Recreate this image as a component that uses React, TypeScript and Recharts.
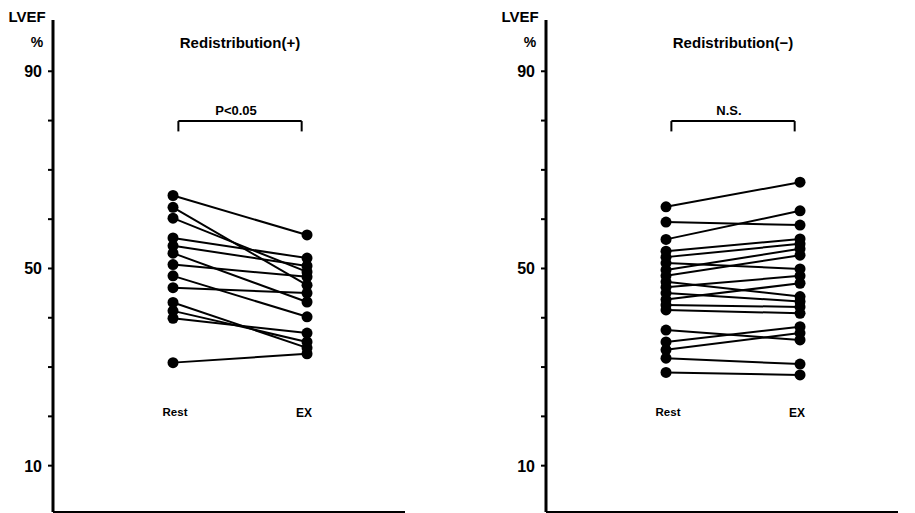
import { LineChart, Line, XAxis, YAxis, ReferenceLine } from "recharts";

// LVEF (%), paired Rest -> EX per patient
const restPlus = [64.8, 62.4, 60.2, 56.2, 54.6, 53.1, 50.8, 48.5, 46.1, 43.1, 41.4, 39.9, 30.9];
const exPlus = [56.8, 46.6, 49.3, 52.1, 50.5, 43.2, 48.3, 40.2, 45.0, 33.9, 35.1, 36.9, 32.7];

const restMinus = [62.5, 59.4, 55.9, 53.5, 52.3, 51.1, 49.7, 48.5, 47.3, 46.2, 45.0, 43.7, 42.6, 41.6, 37.5, 35.1, 33.5, 31.8, 28.9];
const exMinus = [67.5, 58.8, 61.7, 56.0, 55.0, 49.9, 54.0, 52.7, 44.3, 48.5, 43.3, 47.0, 42.2, 40.9, 35.5, 38.2, 36.9, 30.6, 28.4];

const yTicks = [10, 20, 30, 40, 50, 60, 70, 80, 90];
const yLabels = [10, 50, 90];
const phases = ["Rest", "EX"];

const FONT = "'Liberation Sans', Arial, sans-serif";

const buildRows = (rest: number[], ex: number[]) =>
  [rest, ex].map((vals, x) => {
    const row: Record<string, number> = { x };
    vals.forEach((v, i) => {
      row[`p${i}`] = v;
    });
    return row;
  });

const YTick = (props: any) => {
  const { x, y, payload } = props;
  if (!yLabels.includes(payload.value)) return <g />;
  return (
    <text
      x={x}
      y={y}
      dy={6}
      textAnchor="end"
      fontFamily={FONT}
      fontWeight={700}
      fontSize={16}
      fill="#000"
    >
      {payload.value}
    </text>
  );
};

const Label = ({ x, y, size, children }: { x: number; y: number; size: number; children: React.ReactNode }) => (
  <div
    style={{
      position: "absolute",
      left: x,
      top: y,
      transform: "translate(-50%, -50%)",
      fontFamily: FONT,
      fontWeight: 700,
      fontSize: size,
      lineHeight: 1,
      whiteSpace: "nowrap",
      color: "#000",
    }}
  >
    {children}
  </div>
);

interface PanelProps {
  left: number;
  title: string;
  note: string;
  rest: number[];
  ex: number[];
}

const Panel = ({ left, title, note, rest, ex }: PanelProps) => {
  const rows = buildRows(rest, ex);
  const bracketY = 79.9;
  const bracketEnd = 77.8;
  return (
    <div style={{ position: "absolute", left, top: 0, width: 420, height: 513 }}>
      <LineChart width={420} height={513} data={rows} margin={{ top: 20, right: 15, bottom: 0, left: 0 }}>
        <XAxis
          dataKey="x"
          type="number"
          domain={[-0.8955, 1.731]}
          tick={false}
          tickLine={false}
          height={1}
          axisLine={{ stroke: "#000", strokeWidth: 2 }}
        />
        <YAxis
          type="number"
          domain={[0.6, 100.4]}
          ticks={yTicks}
          width={53}
          tickSize={5}
          tickMargin={6}
          tick={<YTick />}
          tickLine={{ stroke: "#000", strokeWidth: 2 }}
          axisLine={{ stroke: "#000", strokeWidth: 3 }}
        />
        <ReferenceLine
          segment={[{ x: 0.04, y: bracketY }, { x: 0.96, y: bracketY }]}
          stroke="#000"
          strokeWidth={2}
        />
        <ReferenceLine
          segment={[{ x: 0.04, y: bracketY }, { x: 0.04, y: bracketEnd }]}
          stroke="#000"
          strokeWidth={2}
        />
        <ReferenceLine
          segment={[{ x: 0.96, y: bracketY }, { x: 0.96, y: bracketEnd }]}
          stroke="#000"
          strokeWidth={2}
        />
        {rest.map((_, i) => (
          <Line
            key={i}
            dataKey={`p${i}`}
            type="linear"
            stroke="#000"
            strokeWidth={2}
            dot={{ r: 5.5, fill: "#000", stroke: "#000", strokeWidth: 0 }}
            activeDot={false}
            isAnimationActive={false}
          />
        ))}
      </LineChart>
      <Label x={27} y={16} size={15}>LVEF</Label>
      <Label x={37} y={42} size={14}>%</Label>
      <Label x={240} y={42} size={15}>{title}</Label>
      <Label x={236} y={110} size={13}>{note}</Label>
      <Label x={175} y={413} size={11.5}>{phases[0]}</Label>
      <Label x={304} y={413} size={12}>{phases[1]}</Label>
    </div>
  );
};

export default function App() {
  return (
    <div style={{ position: "absolute", left: 0, top: 0, width: 915, height: 513, background: "#fff", overflow: "hidden" }}>
      <Panel left={0} title="Redistribution(+)" note="P<0.05" rest={restPlus} ex={exPlus} />
      <Panel left={493} title="Redistribution(−)" note="N.S." rest={restMinus} ex={exMinus} />
    </div>
  );
}
